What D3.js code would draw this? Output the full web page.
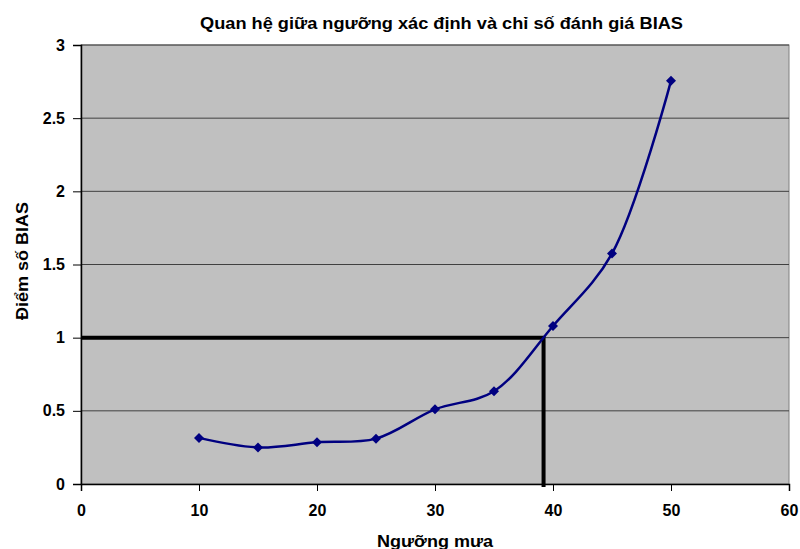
<!DOCTYPE html>
<html><head><meta charset="utf-8">
<script src="https://cdn.jsdelivr.net/npm/d3@7"></script>
<style>body{margin:0;background:#fff;}text{font-family:"Liberation Sans",Arial,sans-serif;font-weight:bold;}</style>
</head><body>
<svg id="c" width="800" height="549"></svg>
<script>
const thresholds = [10, 15, 20, 25, 30, 35, 40, 45, 50];
const biasValues = [0.315, 0.25, 0.285, 0.31, 0.51, 0.634, 1.08, 1.575, 2.755];
const xTicks = [0, 10, 20, 30, 40, 50, 60];
const yTicks = [0, 0.5, 1, 1.5, 2, 2.5, 3];
const refX = 39.2, refY = 1;
const title = "Quan hệ giữa ngưỡng xác định và chỉ số đánh giá BIAS";
const xLabel = "Ngưỡng mưa";
const yLabel = "Điểm số BIAS";

const svg = d3.select("#c");
const L = 81, R = 789, T = 45, B = 484;
const x = d3.scaleLinear().domain([0, 60]).range([L, R]);
const y = d3.scaleLinear().domain([0, 3]).range([B, T]);

svg.append("rect").attr("x", L).attr("y", T).attr("width", R - L).attr("height", B - T)
  .attr("fill", "#c0c0c0").attr("stroke", "#808080").attr("stroke-width", 1);

svg.append("g").selectAll("line").data(yTicks.filter(d => d > 0)).join("line")
  .attr("x1", L).attr("x2", R).attr("y1", d => y(d)).attr("y2", d => y(d))
  .attr("stroke", "#404040").attr("stroke-width", 1);

const xa = svg.append("g").attr("transform", `translate(0,${B})`)
  .call(d3.axisBottom(x).tickValues(xTicks).tickSize(7).tickPadding(14).tickFormat(d3.format("d")));
const ya = svg.append("g").attr("transform", `translate(${L},0)`)
  .call(d3.axisLeft(y).tickValues(yTicks).tickSize(8).tickPadding(8).tickFormat(d => String(d)));
[xa, ya].forEach(a => {
  a.selectAll("path").attr("stroke", "#000").attr("stroke-width", 1.5);
  a.selectAll("line").attr("stroke", "#000");
  a.selectAll("text").attr("font-size", 16).attr("font-weight", "bold").attr("fill", "#000")
    .attr("font-family", "'Liberation Sans', Arial, sans-serif");
});

// reference lines
svg.append("path")
  .attr("d", `M${x(0)},${y(refY)} L${x(refX)},${y(refY)} L${x(refX)},${y(0) + 3}`)
  .attr("fill", "none").attr("stroke", "#000").attr("stroke-width", 4);

const data = thresholds.map((t, i) => [t, biasValues[i]]);
svg.append("path").datum(data)
  .attr("d", d3.line().x(d => x(d[0])).y(d => y(d[1])).curve(d3.curveCatmullRom.alpha(0.5)))
  .attr("fill", "none").attr("stroke", "#000080").attr("stroke-width", 2.5);

svg.append("g").selectAll("path").data(data).join("path")
  .attr("d", d3.symbol(d3.symbolSquare, 50))
  .attr("transform", d => `translate(${x(d[0])},${y(d[1])}) rotate(45)`)
  .attr("fill", "#000080");

svg.append("text").attr("x", 441.5).attr("y", 29).attr("text-anchor", "middle")
  .attr("font-size", 16).attr("textLength", 483).attr("lengthAdjust", "spacingAndGlyphs").text(title);
svg.append("text").attr("x", 435).attr("y", 547).attr("text-anchor", "middle")
  .attr("font-size", 16).attr("textLength", 116).attr("lengthAdjust", "spacingAndGlyphs").text(xLabel);
svg.append("text").attr("transform", "translate(28,261) rotate(-90)").attr("text-anchor", "middle")
  .attr("font-size", 16).attr("textLength", 118).attr("lengthAdjust", "spacingAndGlyphs").text(yLabel);
</script>
</body></html>
